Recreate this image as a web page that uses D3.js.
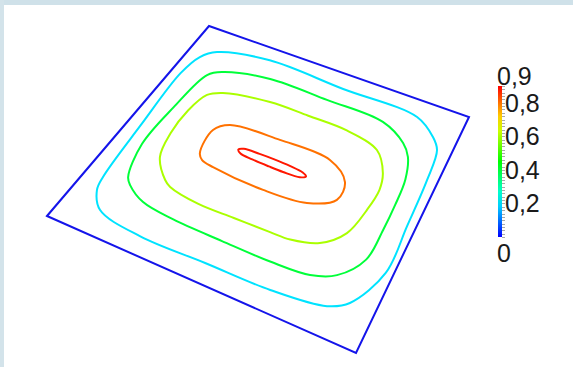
<!DOCTYPE html>
<html><head><meta charset="utf-8">
<script src="https://cdn.jsdelivr.net/npm/d3@7"></script>
<style>html,body{margin:0;padding:0;background:#fff;overflow:hidden}</style>
</head><body><svg id="chart" width="573" height="367"></svg>
<script>
// ---- data (plane coordinates u,v in [0,1]) ----
const valueRange = [0, 0.9];
const contourLevels = [0.2, 0.4, 0.6, 0.8, 0.88];
const contour020 = [[0.054,0.835],[0.095,0.887],[0.281,0.937],[0.570,0.925],[0.844,0.917],[0.922,0.854],[0.953,0.805],[0.967,0.668],[0.974,0.466],[0.978,0.279],[0.925,0.137],[0.872,0.098],[0.708,0.073],[0.501,0.069],[0.286,0.064],[0.127,0.092],[0.075,0.153],[0.062,0.206],[0.047,0.451],[0.036,0.730]];
const contour040 = [[0.122,0.765],[0.164,0.805],[0.325,0.851],[0.542,0.849],[0.750,0.841],[0.844,0.782],[0.879,0.732],[0.905,0.638],[0.913,0.526],[0.915,0.419],[0.910,0.295],[0.856,0.206],[0.787,0.171],[0.665,0.160],[0.507,0.160],[0.340,0.163],[0.225,0.178],[0.154,0.217],[0.131,0.242],[0.095,0.382],[0.100,0.574]];
const contour060 = [[0.170,0.678],[0.213,0.712],[0.375,0.748],[0.517,0.750],[0.658,0.748],[0.779,0.713],[0.832,0.630],[0.848,0.560],[0.843,0.467],[0.823,0.358],[0.766,0.287],[0.683,0.258],[0.618,0.255],[0.498,0.252],[0.375,0.250],[0.267,0.268],[0.239,0.285],[0.175,0.360],[0.152,0.465],[0.150,0.583]];
const contour080 = [[0.267,0.543],[0.306,0.589],[0.481,0.606],[0.661,0.602],[0.740,0.539],[0.746,0.461],[0.669,0.407],[0.527,0.391],[0.345,0.401],[0.300,0.411],[0.279,0.434]];
const contour088 = [[0.381,0.505],[0.395,0.516],[0.450,0.520],[0.500,0.521],[0.560,0.519],[0.606,0.513],[0.622,0.503],[0.606,0.491],[0.550,0.486],[0.500,0.486],[0.440,0.488],[0.395,0.493]];
const planeOutline = [[0,0],[1,0],[1,1],[0,1]];
const legendTicks = [0.2, 0.4, 0.6, 0.8];

// ---- perspective "scale": unit square -> screen quad ----
const quad = [[47,216],[356,353],[469,117],[209,26]];
function makeProjection(q){
  const [[x0,y0],[x1,y1],[x2,y2],[x3,y3]] = q;
  const dx1=x1-x2,dx2=x3-x2,dx3=x0-x1+x2-x3,dy1=y1-y2,dy2=y3-y2,dy3=y0-y1+y2-y3;
  const den=dx1*dy2-dx2*dy1;
  const g=(dx3*dy2-dx2*dy3)/den,h=(dx1*dy3-dx3*dy1)/den;
  const a=x1-x0+g*x1,b=x3-x0+h*x3,c=x0,d=y1-y0+g*y1,e=y3-y0+h*y3,f=y0;
  return ([u,v]) => {const w=g*u+h*v+1; return [(a*u+b*v+c)/w,(d*u+e*v+f)/w];};
}
const proj = makeProjection(quad);

const hue = d3.scaleLinear().domain(valueRange).range([240, 0]);
const color = v => d3.hsl(hue(v), 1, 0.5).formatHex();

const svg = d3.select('#chart');
svg.append('rect').attr('x',0).attr('y',0).attr('width',573).attr('height',367).attr('fill','#fff');
svg.append('rect').attr('x',0).attr('y',0).attr('width',573).attr('height',5).attr('fill','#cfe1e9');
svg.append('rect').attr('x',0).attr('y',0).attr('width',4).attr('height',367).attr('fill','#d3e3ea');

const line = d3.line().x(d=>proj(d)[0]).y(d=>proj(d)[1]).curve(d3.curveLinearClosed);
svg.append('path')
  .attr('d', line(planeOutline))
  .attr('fill','none').attr('stroke', '#1414ea').attr('stroke-width',2)
  .attr('stroke-linejoin','miter');

const contours = [contour020, contour040, contour060, contour080, contour088];
const smooth = d3.line().x(d=>proj(d)[0]).y(d=>proj(d)[1]).curve(d3.curveCatmullRomClosed.alpha(0.5));
svg.append('g').selectAll('path').data(contours).join('path')
  .attr('d', d => smooth(d))
  .attr('fill','none')
  .attr('stroke', (d,i) => color(contourLevels[i]))
  .attr('stroke-width', 2)
  .attr('stroke-linejoin','round');

// ---- color legend ----
const barX = 498, barW = 4;
const yLeg = d3.scaleLinear().domain(valueRange).range([237, 86]);
const grad = svg.append('defs').append('linearGradient').attr('id','cbar')
  .attr('x1',0).attr('y1',1).attr('x2',0).attr('y2',0);
d3.range(0, 1.0001, 0.1).forEach(t => {
  grad.append('stop').attr('offset', t).attr('stop-color', color(valueRange[0] + t*(valueRange[1]-valueRange[0])));
});
svg.append('rect').attr('x',barX).attr('y',yLeg(valueRange[1])).attr('width',barW)
  .attr('height', yLeg(valueRange[0]) - yLeg(valueRange[1])).attr('fill','url(#cbar)');

const minor = d3.range(0, 0.9001, 0.02);
svg.append('g').selectAll('line').data(minor).join('line')
  .attr('x1', barX+barW).attr('x2', barX+barW+3)
  .attr('y1', d=>Math.round(yLeg(d))+0.5).attr('y2', d=>Math.round(yLeg(d))+0.5)
  .attr('stroke','#aaa').attr('stroke-width',1);

const loc = d3.formatLocale({decimal:',', thousands:'.', grouping:[3], currency:['','']});
const fmt = loc.format('~g');
const lg = svg.append('g').attr('font-family', "'Liberation Sans', Arial, sans-serif")
  .attr('font-size', 25).attr('fill','#1a1a1a');
lg.selectAll('text.tick').data(legendTicks).join('text').attr('class','tick')
  .attr('x', 505).attr('y', d=>yLeg(d)).attr('dy','0.36em').text(d=>fmt(d));
lg.append('text').attr('x', 497).attr('y', yLeg(valueRange[1]) - 1).text(fmt(valueRange[1]));
lg.append('text').attr('x', 497).attr('y', yLeg(valueRange[0]) + 25).text(fmt(valueRange[0]));
</script></body></html>
